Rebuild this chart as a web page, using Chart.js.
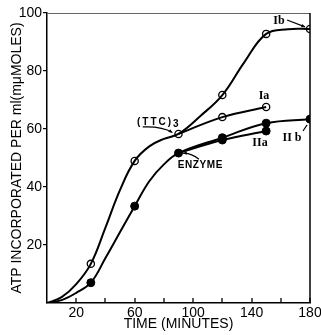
<!DOCTYPE html>
<html><head><meta charset="utf-8">
<script src="https://cdn.jsdelivr.net/npm/chart.js@4"></script>
<style>html,body{margin:0;padding:0;background:#fff}</style>
</head><body><canvas id="c" width="321" height="335"></canvas>
<script>
// ---- data ----
const xTickMarks = [20, 40, 60, 80, 100, 120, 140, 160, 180];
const xTickLabels = [20, 60, 100, 140, 180];
const yTickLabels = [20, 40, 60, 80, 100];

// common (TTC)3 curve continuing to Ib (guide points)
const upperCurveT = [0, 10, 20, 30, 40, 50, 60, 70, 80, 90, 105, 120, 135, 150, 165, 180];
const upperCurveV = [0, 2, 6.5, 13.5, 26, 39, 49, 54, 56.6, 58.3, 64.5, 71.7, 83, 92.8, 94.4, 94.5];
// Ia branch
const iaCurveT = [90, 120, 150];
const iaCurveV = [58.3, 64.1, 67.6];
// ENZYME curve continuing to IIb
const lowerCurveT = [0, 10, 20, 30, 40, 50, 60, 70, 80, 90, 120, 150, 180];
const lowerCurveV = [0, 1, 3.5, 7, 15.5, 24.5, 33.4, 42, 47.8, 51.7, 57, 62, 63.4];
// IIa branch
const iiaCurveT = [90, 120, 150];
const iiaCurveV = [51.7, 56.2, 59.3];

// measured points
const openT = [30, 60, 90, 120, 150, 180, 120, 150];
const openV = [13.5, 49, 58.3, 71.7, 92.8, 94.5, 64.1, 67.6];
const filledT = [30, 60, 90, 120, 150, 180, 120, 150];
const filledV = [7, 33.4, 51.7, 57, 62, 63.4, 56.2, 59.3];

const pts = (T, V) => T.map((t, i) => ({x: t, y: V[i]}));

// ---- annotation layout (data-unit anchors) ----
const labelSans = '"Liberation Sans", Arial, sans-serif';
const labelSerif = '"Liberation Serif", serif';
const texts = [
  {text: '(TTC)', sub: '3', t: 76.5, v: 62.4, font: 'bold 10px ' + labelSans, spacing: '2px'},
  {text: 'ENZYME', t: 105, v: 47.6, font: 'bold 10px ' + labelSans, spacing: '0.6px'},
  {text: 'Ib', t: 158.8, v: 97.2, font: 'bold 12px ' + labelSerif, spacing: '0px'},
  {text: 'Ia', t: 148.5, v: 71.4, font: 'bold 12px ' + labelSerif, spacing: '0px'},
  {text: 'IIa', t: 145.8, v: 55.2, font: 'bold 12px ' + labelSerif, spacing: '0px'},
  {text: 'II b', t: 167.7, v: 56.9, font: 'bold 12px ' + labelSerif, spacing: '0px'}
];
const leaders = [
  {from: [65.5, 60.7], ctrl: [78.5, 61.0], to: [85.8, 58.8], head: true},
  {from: [104, 49.6], ctrl: [98.5, 51.8], to: [93.2, 51.6], head: true},
  {from: [164.3, 97.6], ctrl: null, to: [176.6, 95.2], head: true},
  {from: [175.2, 59.3], ctrl: null, to: [178, 61.4], head: false}
];

const frameAndNotes = {
  id: 'frameAndNotes',
  afterDraw(chart) {
    const {ctx, chartArea: a, scales: {x, y}} = chart;
    ctx.save();
    // frame: top and right
    ctx.strokeStyle = '#666'; ctx.lineWidth = 1;
    ctx.beginPath(); ctx.moveTo(a.left, a.top + 0.5); ctx.lineTo(a.right, a.top + 0.5); ctx.stroke();
    ctx.strokeStyle = '#000'; ctx.lineWidth = 1.5;
    ctx.beginPath(); ctx.moveTo(a.right, a.top); ctx.lineTo(a.right, a.bottom); ctx.stroke();
    // inward tick marks on the time axis, at the scale's own ticks
    ctx.lineWidth = 1.3;
    x.ticks.forEach(tk => {
      const px = Math.round(x.getPixelForValue(tk.value));
      ctx.beginPath(); ctx.moveTo(px, a.bottom); ctx.lineTo(px, a.bottom - 5); ctx.stroke();
    });
    // texts
    ctx.fillStyle = '#000'; ctx.textBaseline = 'middle'; ctx.textAlign = 'left';
    texts.forEach(o => {
      ctx.font = o.font;
      ctx.letterSpacing = o.spacing;
      const w1 = ctx.measureText(o.text).width;
      const w2 = o.sub ? ctx.measureText(o.sub).width : 0;
      const cx = x.getPixelForValue(o.t), cy = y.getPixelForValue(o.v);
      const left = cx - (w1 + w2) / 2;
      ctx.fillText(o.text, left, cy);
      if (o.sub) ctx.fillText(o.sub, left + w1, cy + 2);
    });
    ctx.letterSpacing = '0px';
    // leader lines
    ctx.strokeStyle = '#000'; ctx.lineWidth = 1.2;
    leaders.forEach(l => {
      const p0 = [x.getPixelForValue(l.from[0]), y.getPixelForValue(l.from[1])];
      const p1 = [x.getPixelForValue(l.to[0]), y.getPixelForValue(l.to[1])];
      ctx.beginPath(); ctx.moveTo(p0[0], p0[1]);
      let dirFrom = p0;
      if (l.ctrl) {
        const c = [x.getPixelForValue(l.ctrl[0]), y.getPixelForValue(l.ctrl[1])];
        ctx.quadraticCurveTo(c[0], c[1], p1[0], p1[1]);
        dirFrom = c;
      } else {
        ctx.lineTo(p1[0], p1[1]);
      }
      ctx.stroke();
      if (l.head) {
        const ang = Math.atan2(p1[1] - dirFrom[1], p1[0] - dirFrom[0]);
        const s = 4;
        ctx.beginPath();
        ctx.moveTo(p1[0], p1[1]);
        ctx.lineTo(p1[0] - s * Math.cos(ang - 0.45), p1[1] - s * Math.sin(ang - 0.45));
        ctx.lineTo(p1[0] - s * Math.cos(ang + 0.45), p1[1] - s * Math.sin(ang + 0.45));
        ctx.closePath(); ctx.fill();
      }
    });
    ctx.restore();
  }
};

const lineDs = (T, V) => ({
  type: 'line', data: pts(T, V), borderColor: '#000', borderWidth: 2,
  pointRadius: 0, fill: false, tension: 0.4
});

const font14 = {family: '"Liberation Sans", Arial, sans-serif', size: 14};

new Chart(document.getElementById('c'), {
  type: 'scatter',
  data: {
    datasets: [
      lineDs(upperCurveT, upperCurveV),
      lineDs(iaCurveT, iaCurveV),
      lineDs(lowerCurveT, lowerCurveV),
      lineDs(iiaCurveT, iiaCurveV),
      {data: pts(openT, openV), pointRadius: 3.6, pointBorderWidth: 1.3,
       pointBackgroundColor: '#fff', pointBorderColor: '#000', showLine: false},
      {data: pts(filledT, filledV), pointRadius: 4, pointBorderWidth: 1,
       pointBackgroundColor: '#000', pointBorderColor: '#000', showLine: false}
    ]
  },
  options: {
    responsive: false, animation: false, devicePixelRatio: 1,
    layout: {padding: {top: 13, right: 11, left: 0, bottom: 0}},
    plugins: {legend: {display: false}, tooltip: {enabled: false}},
    scales: {
      x: {
        type: 'linear', min: 0, max: 180,
        afterBuildTicks: s => { s.ticks = xTickMarks.map(v => ({value: v})); },
        afterFit: s => { s.height = 32; s.paddingLeft = 0; s.paddingRight = 0; },
        grid: {drawOnChartArea: false, drawTicks: false},
        border: {display: true, color: '#000', width: 1.5},
        ticks: {
          color: '#000', font: font14, padding: 2, maxRotation: 0, autoSkip: false,
          callback: v => xTickLabels.includes(v) ? String(v) : ''
        },
        title: {display: true, text: 'TIME (MINUTES)', color: '#000', font: font14,
                padding: {top: 0, bottom: 2}}
      },
      y: {
        type: 'linear', min: 0, max: 100,
        afterBuildTicks: s => { s.ticks = yTickLabels.map(v => ({value: v})); },
        afterFit: s => { s.width = 47; s.paddingTop = 0; s.paddingBottom = 0; },
        grid: {drawOnChartArea: false, tickLength: 4, color: '#000', lineWidth: 1.2},
        border: {display: true, color: '#000', width: 1.5},
        ticks: {color: '#000', font: font14, padding: 1},
        title: {display: true, text: 'ATP INCORPORATED PER ml(mμMOLES)', color: '#000',
                font: font14, padding: {top: 9, bottom: 0}}
      }
    }
  },
  plugins: [frameAndNotes]
});
</script></body></html>
